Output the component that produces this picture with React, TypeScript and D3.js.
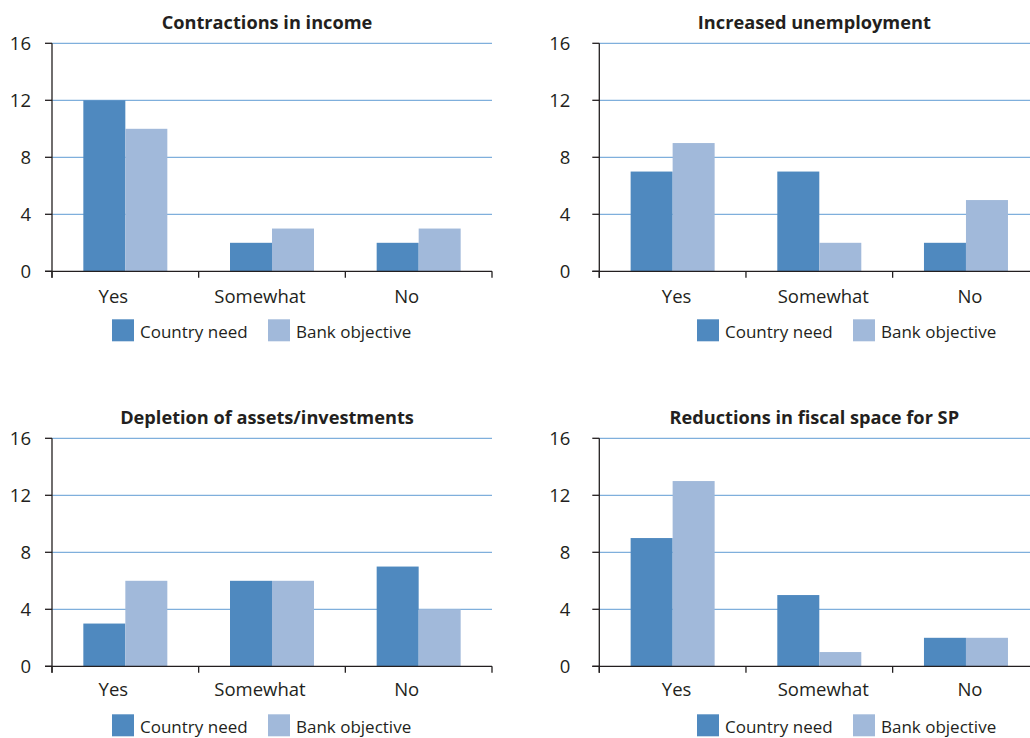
import React from "react";
import * as d3 from "d3";

const categories = ["Yes", "Somewhat", "No"];
const seriesNames = ["Country need", "Bank objective"];
const yTicks = [0, 4, 8, 12, 16];

const incomeCountry = [12, 2, 2];
const incomeBank = [10, 3, 3];
const unempCountry = [7, 7, 2];
const unempBank = [9, 2, 5];
const assetsCountry = [3, 6, 7];
const assetsBank = [6, 6, 4];
const fiscalCountry = [9, 5, 2];
const fiscalBank = [13, 1, 2];

const panels = [
  { title: "Contractions in income", country: incomeCountry, bank: incomeBank, x0: 52, zero: 271.3, labelDx: -12, tickLabelDx: -21, legendX: 112, labelDy: 32 },
  { title: "Increased unemployment", country: unempCountry, bank: unempBank, x0: 599.3, zero: 271.3, labelDx: 4, tickLabelDx: -29, legendX: 697, labelDy: 32 },
  { title: "Depletion of assets/investments", country: assetsCountry, bank: assetsBank, x0: 52, zero: 666.3, labelDx: -12, tickLabelDx: -21, legendX: 112, labelDy: 30 },
  { title: "Reductions in fiscal space for SP", country: fiscalCountry, bank: fiscalBank, x0: 599.3, zero: 666.3, labelDx: 4, tickLabelDx: -29, legendX: 697, labelDy: 30 },
];

const colors = ["#4f89bf", "#a1b9da"];
const gridColor = "#7fafdc";
const ink = "#231f20";
const font = "'Open Sans', 'Noto Sans', sans-serif";

function Panel({ p }: { p: (typeof panels)[number] }) {
  const width = 440;
  const height = 228;
  const x = d3.scaleBand<string>().domain(categories).range([p.x0, p.x0 + width]).padding(0);
  const groupW = 84;
  const xs = d3.scaleBand<string>().domain(seriesNames).range([0, groupW]).padding(0);
  const y = d3.scaleLinear().domain([0, 16]).range([p.zero, p.zero - height]);
  const values = [p.country, p.bank];
  const boundaries = [...categories.map((c) => x(c) as number), p.x0 + width];
  return (
    <g>
      <text x={p.x0 + 215} y={p.zero - 242.5} textAnchor="middle" fontFamily={font} fontWeight={700} fontSize={18.2} fill={ink}>
        {p.title}
      </text>
      {yTicks.filter((t) => t > 0).map((t) => (
        <line key={"g" + t} x1={p.x0} x2={p.x0 + width} y1={y(t)} y2={y(t)} stroke={gridColor} strokeWidth={1.2} />
      ))}
      {categories.map((c, ci) =>
        seriesNames.map((s, si) => {
          const v = values[si][ci];
          const bx = (x(c) as number) + (x.bandwidth() - groupW) / 2 + (xs(s) as number);
          return <rect key={c + s} x={bx} y={y(v)} width={xs.bandwidth()} height={y(0) - y(v)} fill={colors[si]} />;
        })
      )}
      <line x1={p.x0 - 7} x2={p.x0 + width} y1={y(0)} y2={y(0)} stroke={ink} strokeWidth={1.3} />
      <line x1={p.x0} x2={p.x0} y1={y(16)} y2={y(0) + 6.5} stroke={ink} strokeWidth={1.3} />
      {yTicks.map((t) => (
        <g key={"t" + t}>
          <line x1={p.x0 - 7} x2={p.x0} y1={y(t)} y2={y(t)} stroke={ink} strokeWidth={1.3} />
          <text x={p.x0 + p.tickLabelDx} y={y(t) + 6.6} textAnchor="end" fontFamily={font} fontSize={18.5} fill={ink}>
            {t}
          </text>
        </g>
      ))}
      {boundaries.map((bx, i) => (
        <line key={"xt" + i} x1={bx} x2={bx} y1={y(0)} y2={y(0) + 6.5} stroke={ink} strokeWidth={1.3} />
      ))}
      {categories.map((c) => (
        <text key={"c" + c} x={(x(c) as number) + x.bandwidth() / 2 + p.labelDx} y={y(0) + p.labelDy} textAnchor="middle" fontFamily={font} fontSize={18.5} fill={ink}>
          {c}
        </text>
      ))}
      {seriesNames.map((s, si) => {
        const lx = p.legendX + si * 156;
        const ly = p.zero + 48;
        return (
          <g key={"l" + s}>
            <rect x={lx} y={ly} width={22} height={22} fill={colors[si]} />
            <text x={lx + 28} y={ly + 19} fontFamily={font} fontSize={17} fill={ink}>
              {s}
            </text>
          </g>
        );
      })}
    </g>
  );
}

export default function App() {
  return (
    <svg width={1030} height={738} style={{ position: "absolute", left: 0, top: 0, background: "#fff" }}>
      <rect x={0} y={0} width={1030} height={738} fill="#fff" />
      {panels.map((p) => (
        <Panel key={p.title} p={p} />
      ))}
    </svg>
  );
}
